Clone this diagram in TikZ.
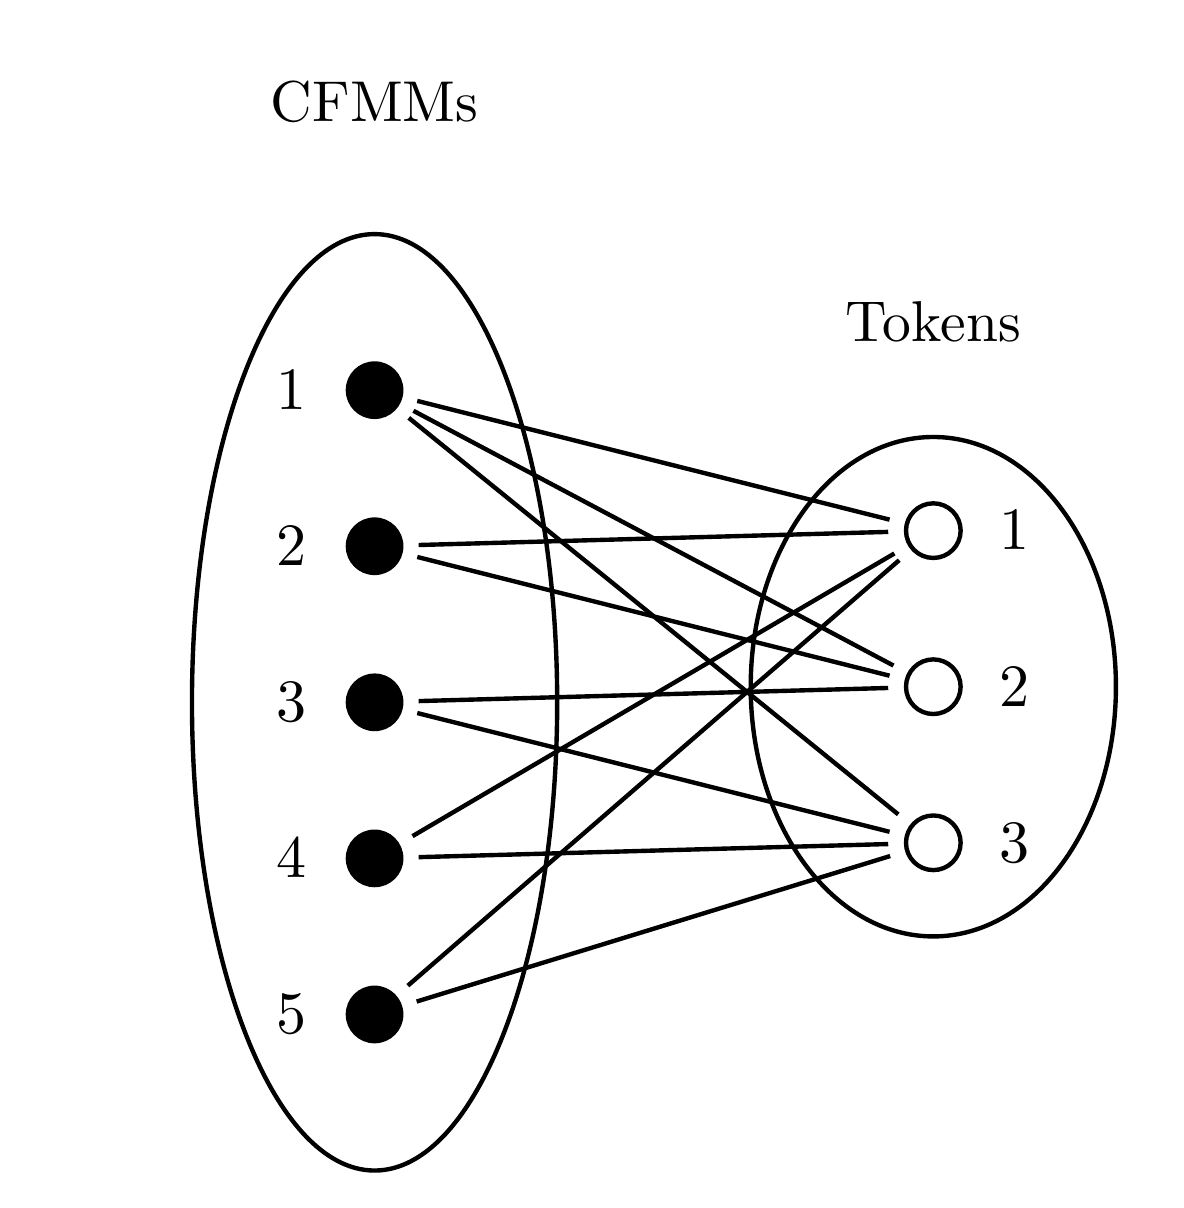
\documentclass[tikz,border=0pt]{standalone}
\usetikzlibrary{positioning}

\tikzset{
  cfmm/.style={circle, fill=black, minimum size=0.37cm, inner sep=0pt},
  token/.style={circle, draw, thick, minimum size=0.35cm, inner sep=0pt},
  edge/.style={thick, shorten <=0.09cm, shorten >=0.1cm},
}

\begin{document}
\begin{tikzpicture}[node distance=1cm, on grid, font=\fontsize{10.5pt}{12.5pt}\selectfont]
  \useasboundingbox (-2.40,-3.24) rectangle (5.18,4.5);

  % the two sides
  \draw[thick] (0,0) ellipse [x radius=1.17cm, y radius=3cm];
  \draw[thick] (3.58,0.1) ellipse [x radius=1.17cm, y radius=1.6cm];
  \node (cfmms) at (0,3.85) {CFMMs};
  \node (tokens) at (3.58,2.44) {Tokens};

  % CFMMs
  \node[cfmm] (c1) at (0,2) {};
  \node[cfmm, below=of c1] (c2) {};
  \node[cfmm, below=of c2] (c3) {};
  \node[cfmm, below=of c3] (c4) {};
  \node[cfmm, below=of c4] (c5) {};
  \foreach \i in {1,...,5}
    \node[left=0.53 of c\i] (lc\i) {$\i$};

  % tokens
  \node[token] (t1) at (3.58,1.1) {};
  \node[token, below=of t1] (t2) {};
  \node[token, below=of t2] (t3) {};
  \foreach \i in {1,2,3}
    \node[right=0.52 of t\i] (lt\i) {$\i$};

  \foreach \a/\b in {1/1,1/2,1/3,2/1,2/2,3/2,3/3,4/1,4/3,5/1,5/3}
    \draw[edge] (c\a) -- (t\b);
\end{tikzpicture}
\end{document}
